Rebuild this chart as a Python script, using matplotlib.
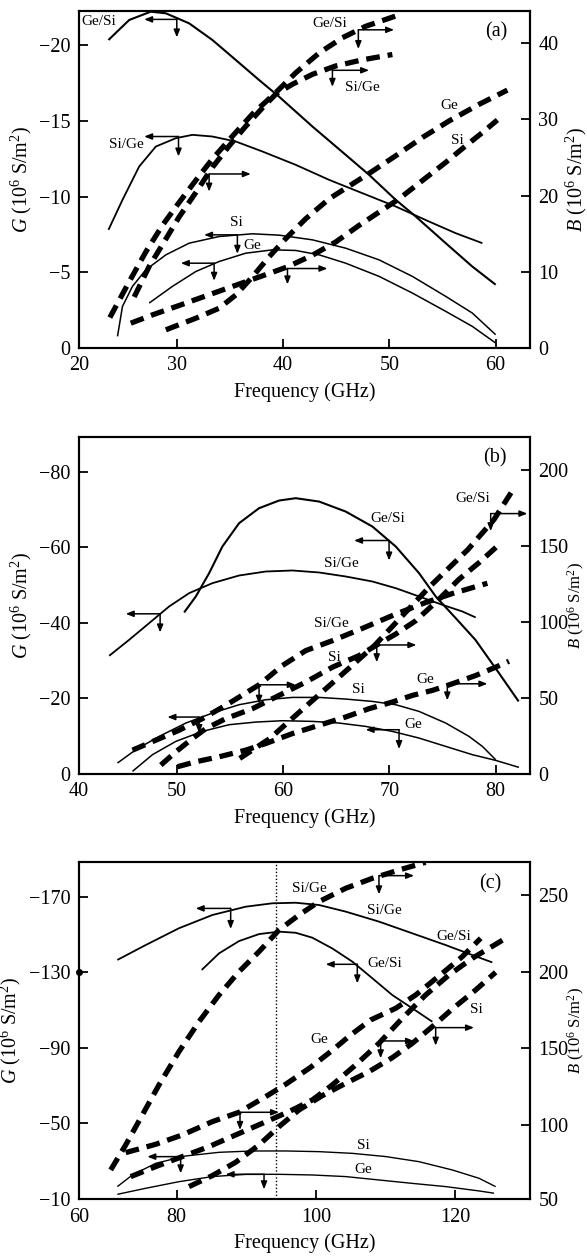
import matplotlib
matplotlib.use('Agg')
import matplotlib.pyplot as plt

plt.rcParams['font.family'] = ['Liberation Serif', 'DejaVu Serif']
plt.rcParams['mathtext.fontset'] = 'custom'
plt.rcParams['mathtext.rm'] = 'Liberation Serif'
plt.rcParams['mathtext.it'] = 'Liberation Serif:italic'

# ---------------- Panel (a) ----------------
a_f_GeSi_G = [23.57, 25.52, 27.55, 28.97, 31.16, 33.35, 35.55, 37.74, 39.62, 42.76, 45.89, 48.09, 50.6, 52.48, 55.3, 57.8, 60.0]
a_G_GeSi = [-20.33, -21.65, -22.2, -22.09, -21.43, -20.33, -19.01, -17.69, -16.59, -14.62, -12.75, -11.43, -9.78, -8.68, -6.92, -5.38, -4.18]
a_f_SiGe_G = [23.57, 24.89, 26.46, 28.03, 29.91, 31.47, 33.35, 35.55, 38.06, 41.19, 44.33, 47.46, 50.6, 53.73, 56.24, 58.75]
a_G_SiGe = [-7.80, -9.78, -11.98, -13.30, -13.85, -14.07, -13.96, -13.63, -12.97, -12.09, -11.10, -10.22, -9.34, -8.35, -7.58, -6.92]
a_f_Si_G = [24.42, 24.89, 25.83, 27.08, 28.97, 31.16, 33.98, 37.12, 39.62, 42.76, 45.89, 49.03, 52.16, 55.3, 57.8, 60.0]
a_G_Si = [-0.77, -2.75, -4.07, -5.16, -6.15, -6.92, -7.36, -7.54, -7.45, -7.14, -6.59, -5.82, -4.73, -3.41, -2.31, -0.88]
a_f_Ge_G = [27.4, 29.59, 31.79, 33.98, 36.49, 39.0, 41.19, 43.39, 45.89, 49.03, 52.16, 55.3, 57.8, 60.0]
a_G_Ge = [-2.97, -4.07, -5.05, -5.71, -6.26, -6.48, -6.44, -6.15, -5.60, -4.73, -3.63, -2.42, -1.43, -0.33]

a_f_GeSi_B = [23.70, 25.52, 27.08, 28.65, 30.22, 31.79, 33.35, 35.24, 37.12, 39.31, 41.19, 43.39, 45.58, 47.77, 50.91]
a_B_GeSi = [4.0, 8.7, 12.6, 16.1, 19.1, 22.0, 24.8, 27.8, 30.7, 33.5, 36.1, 38.7, 40.7, 42.2, 43.7]
a_f_SiGe_B = [25.99, 27.4, 28.97, 30.22, 31.79, 33.35, 34.92, 36.49, 38.06, 39.31, 40.88, 42.76, 44.95, 47.46, 50.28]
a_B_SiGe = [6.7, 10.7, 14.3, 17.2, 20.4, 23.7, 26.5, 29.1, 31.5, 33.3, 34.6, 35.9, 37.0, 37.8, 38.5]
a_f_Ge_B = [28.97, 31.79, 33.98, 35.55, 37.12, 38.68, 40.25, 42.13, 44.33, 46.52, 48.24, 50.6, 53.1, 55.61, 58.43, 61.1]
a_B_Ge = [2.39, 3.91, 5.22, 6.96, 9.35, 11.96, 14.35, 16.96, 19.57, 21.52, 23.04, 25.22, 27.61, 29.78, 31.96, 33.83]
a_f_Si_B = [25.67, 27.71, 29.91, 32.1, 34.29, 36.49, 38.68, 40.41, 42.76, 44.95, 47.15, 49.03, 50.91, 53.1, 55.3, 57.18, 58.75, 60.16]
a_B_Si = [3.26, 4.35, 5.43, 6.52, 7.61, 8.7, 9.78, 10.65, 12.17, 13.91, 16.09, 17.83, 19.57, 21.96, 24.35, 26.52, 28.26, 29.91]

# ---------------- Panel (b) ----------------
b_f_GeSi_G = [50.69, 51.79, 53.04, 54.29, 55.86, 57.74, 59.62, 61.19, 63.39, 65.89, 68.4, 70.6, 72.79, 74.36, 76.24, 78.09, 80.31, 82.16]
b_G_GeSi = [-42.76, -47.0, -53.18, -60.25, -66.43, -70.41, -72.44, -73.06, -72.17, -69.52, -65.55, -60.25, -53.18, -47.0, -41.25, -35.51, -26.68, -19.17]
b_f_SiGe_G = [43.64, 45.52, 47.4, 49.28, 51.16, 53.35, 55.86, 58.37, 60.88, 63.39, 65.89, 68.4, 70.6, 72.79, 74.98, 76.87, 78.12]
b_G_SiGe = [-31.27, -35.51, -39.93, -44.35, -47.88, -50.53, -52.56, -53.62, -53.89, -53.36, -52.3, -50.97, -49.2, -47.0, -44.79, -43.02, -41.43]
b_f_Si_G = [44.42, 46.14, 48.34, 50.85, 53.35, 55.86, 58.37, 60.88, 63.39, 65.89, 68.4, 70.6, 72.79, 75.3, 77.49, 78.75, 80.0]
b_G_Si = [-2.83, -6.36, -9.89, -13.43, -16.08, -18.29, -19.61, -20.23, -20.23, -19.79, -19.17, -18.29, -16.52, -13.43, -9.89, -7.24, -3.71]
b_f_Ge_G = [45.83, 47.71, 49.91, 52.41, 54.92, 57.43, 59.94, 62.76, 65.27, 67.77, 70.28, 72.79, 75.3, 77.81, 80.0, 82.19]
b_G_Ge = [-0.62, -5.04, -8.57, -11.22, -12.99, -13.69, -14.05, -13.87, -13.43, -12.54, -11.22, -9.45, -7.24, -5.04, -3.53, -1.68]

b_f_GeSi_B = [55.92, 58.75, 61.54, 65.08, 68.59, 72.1, 73.86, 77.4, 79.84, 81.63]
b_B_GeSi = [10.06, 23.18, 40.67, 62.54, 84.41, 110.65, 123.77, 147.83, 167.5, 187.2]
b_f_Si_B = [48.5, 49.91, 51.47, 52.73, 54.61, 57.12, 59.62, 62.13, 64.64, 67.15, 68.71, 70.6, 72.48, 74.67, 76.55, 78.43, 80.16]
b_B_Si = [5.69, 14.43, 23.18, 29.74, 36.3, 42.86, 51.61, 60.35, 70.2, 77.85, 84.41, 92.06, 100.81, 115.02, 128.14, 139.07, 150.01]
b_f_SiGe_B = [45.83, 48.03, 50.22, 52.41, 54.61, 57.74, 59.94, 62.13, 64.64, 67.46, 70.6, 73.42, 75.92, 79.22]
b_B_SiGe = [15.53, 22.09, 28.65, 36.3, 45.05, 58.6, 71.29, 81.13, 87.69, 95.78, 105.18, 112.84, 118.74, 125.52]
b_f_Ge_B = [50.06, 51.79, 53.98, 56.49, 58.37, 60.88, 63.39, 65.89, 68.09, 70.28, 72.16, 74.04, 75.92, 78.12, 80.0, 81.25]
b_B_Ge = [4.59, 7.87, 11.15, 15.53, 19.9, 26.46, 31.93, 37.39, 42.86, 47.23, 51.61, 54.89, 59.26, 64.73, 70.2, 74.13]

# ---------------- Panel (c) ----------------
c_f_SiGe_G = [71.48, 75.55, 80.33, 85.12, 89.9, 93.73, 97.08, 100.43, 104.26, 109.04, 113.83, 118.61, 122.44, 125.31]
c_G_SiGe = [-136.5, -144.4, -153.3, -160.3, -164.7, -166.5, -166.8, -165.6, -162.1, -156.8, -150.6, -144.4, -139.1, -135.2]
c_f_GeSi_G = [83.59, 86.08, 88.95, 91.82, 94.69, 97.08, 99.47, 102.34, 105.22, 108.09, 110.96, 113.83, 116.7]
c_G_GeSi = [-131.2, -140.0, -146.5, -150.2, -151.5, -150.9, -148.3, -142.6, -135.6, -126.8, -117.9, -110.9, -103.8]
c_f_Si_G = [71.48, 73.64, 76.99, 81.29, 86.08, 90.86, 95.65, 100.43, 105.22, 110.0, 114.78, 119.57, 123.4, 125.79]
c_G_Si = [-16.48, -22.65, -28.83, -32.71, -34.65, -35.36, -35.36, -35.0, -34.1, -32.4, -29.7, -25.3, -20.9, -16.48]
c_f_Ge_G = [71.48, 75.55, 80.33, 85.12, 89.9, 94.69, 99.47, 104.26, 109.04, 113.83, 118.61, 123.4, 125.55]
c_G_Ge = [-12.4, -15.6, -19.1, -21.8, -23.0, -23.0, -22.65, -21.8, -20.0, -18.2, -16.5, -14.2, -13.0]

c_f_SiGe_B = [70.53, 72.68, 75.07, 77.46, 80.33, 83.21, 86.08, 88.95, 91.82, 94.69, 97.56, 100.43, 104.26, 108.09, 111.91, 115.74]
c_B_SiGe = [70.65, 86.96, 106.52, 126.09, 147.83, 167.39, 184.78, 200.0, 213.04, 227.17, 236.96, 245.65, 254.35, 260.87, 266.3, 271.3]
c_f_Ge_B = [72.68, 76.99, 80.81, 85.12, 88.95, 92.78, 95.65, 99.23, 102.11, 104.98, 107.85, 111.44, 114.31, 118.13, 121.0, 123.64]
c_B_Ge = [81.96, 87.39, 93.48, 102.17, 108.26, 118.48, 126.52, 137.61, 147.83, 158.7, 168.48, 176.09, 184.78, 198.91, 209.78, 221.74]
c_f_GeSi_B = [73.4, 76.99, 80.81, 84.64, 88.47, 92.3, 96.12, 99.47, 102.34, 105.69, 109.04, 112.39, 115.74, 119.09, 122.44, 127.22]
c_B_GeSi = [66.3, 72.83, 79.35, 85.87, 93.48, 101.09, 108.7, 116.3, 126.09, 139.13, 153.26, 169.57, 184.78, 197.83, 208.7, 221.74]
c_f_Si_B = [81.77, 85.12, 88.47, 91.82, 94.69, 97.56, 100.91, 104.26, 107.61, 110.96, 113.83, 116.7, 119.57, 122.92, 125.79]
c_B_Si = [59.78, 66.96, 75.65, 86.96, 98.91, 109.78, 119.13, 127.17, 134.78, 143.91, 153.26, 164.13, 175.65, 188.04, 199.57]

# tick labels
a_xticks = [20.8, 30, 40, 50, 60]; a_xlabels = ['20', '30', '40', '50', '60']
b_xticks = [40.8, 50, 60, 70, 80]; b_xlabels = ['40', '50', '60', '70', '80']
c_xticks = [65.98, 80, 100, 120]; c_xlabels = ['60', '80', '100', '120']
a_gticks = [0, -5, -10, -15, -20]
b_gticks = [0, -20, -40, -60, -80]
c_gticks = [-10, -50, -90, -130, -170]
a_bticks = [0, 10, 20, 30, 40]
b_bticks = [0, 50, 100, 150, 200]
c_bticks = [51.5, 100, 150, 200, 250]; c_blabels = ['50', '100', '150', '200', '250']

FS = 14.5
fig = plt.figure(figsize=(5.87, 12.56), dpi=100)


def make_panel(rect, xlim, xt, xtl, glim, gt, blim, bt, btl, bx, bfs):
    ax = fig.add_axes(rect)
    ax.set_xlim(*xlim)
    ax.set_ylim(*glim)
    ax.set_xticks(xt)
    ax.set_xticklabels(xtl)
    ax.set_yticks(gt)
    ax2 = ax.twinx()
    ax2.set_ylim(*blim)
    ax2.set_yticks(bt)
    if btl is not None:
        ax2.set_yticklabels(btl)
    for a in (ax, ax2):
        a.tick_params(direction='in', length=6.5, width=1.3, labelsize=FS, pad=6)
        for s in a.spines.values():
            s.set_linewidth(1.5)
    ax.set_xlabel('Frequency (GHz)', fontsize=FS, labelpad=5)
    ax.set_ylabel(r'$G$ (10$^6$ S/m$^2$)', fontsize=FS, labelpad=4)
    ax2.set_ylabel(r'$B$ (10$^6$ S/m$^2$)', fontsize=bfs)
    ax2.yaxis.set_label_coords(bx, 0.5)
    return ax, ax2


def solid(ax, x, y, lw=1.2):
    ax.plot(x, y, color='k', lw=lw, solid_capstyle='butt', solid_joinstyle='round')


def dashed(ax, x, y):
    ax.plot(x, y, color='k', lw=3.8, dashes=(2.6, 1.5), dash_capstyle='butt')


ARW = dict(arrowstyle='-|>,head_length=0.45,head_width=0.18', color='k',
           lw=1.1, shrinkA=0, shrinkB=0)


def indicator(ax, jx, jy, hx, vy):
    ax.annotate('', xy=(hx, jy), xytext=(jx, jy), arrowprops=ARW)
    ax.annotate('', xy=(jx, vy), xytext=(jx, jy), arrowprops=ARW)


def label(ax, fx, fy, s, fs=11):
    ax.text(fx, fy, s, transform=ax.transAxes, ha='center', va='center', fontsize=fs)


# ---------- (a) ----------
ax, ax2 = make_panel([0.1346, 0.7229, 0.7683, 0.2683], (20.815, 63.23), a_xticks, a_xlabels,
                     (-0.04, -22.24), a_gticks, (0.3, 44.2), a_bticks, None, 1.075, FS)
solid(ax, a_f_GeSi_G, a_G_GeSi, 1.5)
solid(ax, a_f_SiGe_G, a_G_SiGe, 1.3)
solid(ax, a_f_Si_G, a_G_Si, 1.1)
solid(ax, a_f_Ge_G, a_G_Ge, 1.1)
dashed(ax2, a_f_GeSi_B, a_B_GeSi)
dashed(ax2, a_f_SiGe_B, a_B_SiGe)
dashed(ax2, a_f_Ge_B, a_B_Ge)
dashed(ax2, a_f_Si_B, a_B_Si)
indicator(ax, 30.0, -21.69, 26.93, -20.5)
indicator(ax, 30.16, -13.96, 26.93, -12.64)
indicator(ax, 35.7, -7.47, 32.57, -6.22)
indicator(ax, 33.51, -5.6, 30.38, -4.44)
indicator(ax2, 33.04, 22.83, 36.96, 20.52)
indicator(ax2, 47.08, 41.74, 50.44, 39.22)
indicator(ax2, 44.64, 36.43, 48.09, 34.26)
indicator(ax2, 40.41, 10.43, 44.17, 8.35)
label(ax, 0.044, 0.968, 'Ge/Si')
label(ax, 0.104, 0.605, 'Si/Ge')
label(ax, 0.348, 0.372, 'Si')
label(ax, 0.385, 0.304, 'Ge')
label(ax, 0.556, 0.963, 'Ge/Si')
label(ax, 0.628, 0.773, 'Si/Ge')
label(ax, 0.821, 0.721, 'Ge')
label(ax, 0.839, 0.615, 'Si')
label(ax, 0.926, 0.937, '(a)', FS)

# ---------- (b) ----------
ax, ax2 = make_panel([0.1346, 0.3840, 0.7683, 0.2678], (40.815, 83.23), b_xticks, b_xlabels,
                     (-0.09, -89.2), b_gticks, (1.1, 221.7), b_bticks, None, 1.080, 12)
solid(ax, b_f_GeSi_G, b_G_GeSi, 1.5)
solid(ax, b_f_SiGe_G, b_G_SiGe, 1.3)
solid(ax, b_f_Si_G, b_G_Si, 1.1)
solid(ax, b_f_Ge_G, b_G_Ge, 1.1)
dashed(ax2, b_f_GeSi_B, b_B_GeSi)
dashed(ax2, b_f_Si_B, b_B_Si)
dashed(ax2, b_f_SiGe_B, b_B_SiGe)
dashed(ax2, b_f_Ge_B, b_B_Ge)
indicator(ax, 48.43, -42.4, 45.2, -37.46)
indicator(ax, 69.97, -61.84, 66.68, -56.54)
indicator(ax, 52.1, -15.02, 49.12, -10.78)
indicator(ax, 70.91, -11.66, 67.77, -6.54)
indicator(ax2, 57.74, 58.6, 61.19, 46.14)
indicator(ax2, 68.81, 84.85, 72.54, 73.47)
indicator(ax2, 75.45, 59.26, 79.22, 48.33)
indicator(ax2, 79.53, 171.44, 82.98, 159.85)
label(ax, 0.685, 0.759, 'Ge/Si')
label(ax, 0.581, 0.625, 'Si/Ge')
label(ax, 0.559, 0.447, 'Si/Ge')
label(ax, 0.567, 0.346, 'Si')
label(ax, 0.619, 0.249, 'Si')
label(ax, 0.767, 0.280, 'Ge')
label(ax, 0.741, 0.145, 'Ge')
label(ax, 0.874, 0.819, 'Ge/Si')
label(ax, 0.922, 0.938, '(b)', FS)

# ---------- (c) ----------
ax, ax2 = make_panel([0.1346, 0.04514, 0.7683, 0.2683], (65.98, 130.72), c_xticks, c_xlabels,
                     (-9.77, -188.2), c_gticks, (51.5, 271.3), c_bticks, c_blabels, 1.080, 12)
ax.axvline(94.21, color='k', lw=1.0, ls=(0, (1, 1.5)))
ax.plot([65.98], [-130], 'o', color='k', ms=4, clip_on=False, zorder=5)
solid(ax, c_f_SiGe_G, c_G_SiGe, 1.3)
solid(ax, c_f_GeSi_G, c_G_GeSi, 1.3)
solid(ax, c_f_Si_G, c_G_Si, 1.0)
solid(ax, c_f_Ge_G, c_G_Ge, 1.0)
dashed(ax2, c_f_SiGe_B, c_B_SiGe)
dashed(ax2, c_f_Ge_B, c_B_Ge)
dashed(ax2, c_f_GeSi_B, c_B_GeSi)
dashed(ax2, c_f_Si_B, c_B_Si)
indicator(ax, 87.75, -163.8, 82.73, -152.9)
indicator(ax, 105.93, -134.2, 101.39, -124.1)
indicator(ax, 80.57, -32.36, 75.79, -23.5)
indicator(ax, 92.54, -23.0, 87.03, -15.07)
indicator(ax2, 109.04, 262.6, 114.07, 250.4)
indicator(ax2, 89.09, 108.26, 94.69, 96.74)
indicator(ax2, 109.28, 154.78, 114.07, 143.48)
indicator(ax2, 117.18, 163.48, 122.68, 151.74)
label(ax, 0.511, 0.923, 'Si/Ge')
label(ax, 0.678, 0.856, 'Si/Ge')
label(ax, 0.830, 0.779, 'Ge/Si')
label(ax, 0.678, 0.700, 'Ge/Si')
label(ax, 0.881, 0.562, 'Si')
label(ax, 0.533, 0.473, 'Ge')
label(ax, 0.630, 0.159, 'Si')
label(ax, 0.630, 0.087, 'Ge')
label(ax, 0.911, 0.935, '(c)', FS)

fig.savefig('out.png', dpi=100)
